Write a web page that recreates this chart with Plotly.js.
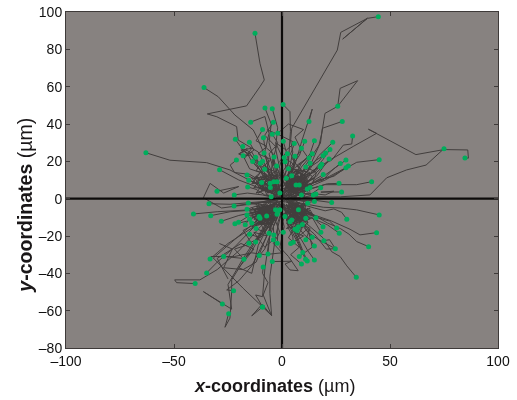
<!DOCTYPE html>
<html><head><meta charset="utf-8">
<script src="https://cdn.plot.ly/plotly-3.0.1.min.js"></script>
<style>html,body{margin:0;padding:0;background:#fff}#c{width:517px;height:400px;filter:blur(0.3px)}</style>
</head><body><div id="c"></div>
<script>
// Each track is a flat list x,y,x,y,... in micrometres; the last pair is the green end point.
const tracksNE = [
 [1,2, 2,8, 5,25, 4,31, 4.5,37.7, 25.6,79.6, 27.2,89.1, 39.5,96.6, 28.1,85.5, 39.5,96.6, 44.6,97.5],
 [2,1, 5,6, 12,15, 17,28, 18.4,35, 19.9,45.7, 25.8,49.5, 35,63.2, 26.9,59.1, 25.8,49.5],
 [1,3, 7,8, 11,18, 17.8,29.7, 18.7,37.7, 27.9,41.4],
 [0,2, 5,15, 7,22, 9.1,30.7, 14,48, 12.5,41.4],
 [-1,1, 1,10, 3,20, 3.9,35.9, 3.7,46.6, 0.5,50.4],
 [2,0, 10,6, 15,13, 22.2,20.7, 33,28, 43.8,35, 40,37.2, 62,23.6, 75,26.3, 86,26.1, 86.3,21.7, 84.7,21.8],
 [3,0, 15,1, 27,1, 40.7,2, 48.5,11.2, 57.7,15.4, 66.7,18, 75,26.8],
 [2,2, 12,6, 20,10, 27.5,15, 34.6,19.5, 45,20.9],
 [1,1, 10,4, 19.8,7.5, 34.6,7.5, 41.5,9.1],
 [4,1, 12,3, 20,2, 24,4, 18,3.5, 27.6,3.6],
 [3,3, 12,12, 18,18, 23,20.6, 28.4,28.7, 32.3,29.3, 32.7,33.6],
 [1,4, 4,9, 7,13, 9,17, 12.5,21.8],
 [0,3, 3,7, 2,12, 5,16, 6,22.7],
 [-1,4, 2,9, 0,14, 3,19, 2.5,24.1],
 [0,2, 3,5, 0,10, 2,15, 1.4,19.8],
 [2,3, 5,6, 2,9, 4.5,12.3],
 [3,2, 8,6, 12,5, 15,10, 19.1,12.9],
 [4,2, 10,4, 16,6, 21,8, 26.4,8.2],
 [4,1, 9,3, 13,2, 17.9,5.9],
 [3,1, 7,4, 9,2, 11.7,5.2],
 [2,4, 4,3, 6,6, 8,7.3],
 [1,3, 3,5, 5,4, 6.5,7.3],
 [3,0, 7,2, 11,1, 14.5,2],
 [4,0, 9,0.5, 12,3, 15.7,2.5],
 [2,1, 5,0.5, 7,3, 9,2],
 [3,5, 8,11, 13,16, 17,23, 23.5,30.2],
 [2,6, 6,12, 9,19, 13,24, 15,31],
 [1,5, 5,10, 4,17, 8,23, 10.5,30.7],
 [-1,6, 1,13, -1,20, 2,25, 0.6,30.7],
 [2,8, 3,14, 6,19, 4,24, 5.7,29.5],
 [5,6, 9,10, 14,14, 19,21, 22.2,26.4],
 [4,7, 10,12, 13,17, 17,20, 20.2,24.5],
 [6,5, 11,9, 16,12, 19,17, 21.8,21.3],
 [5,3, 12,7, 18,11, 24,16, 29.6,20.7],
 [6,4, 13,8, 19,10, 23,15, 27,18.9],
 [4,4, 11,6, 17,10, 24,12, 30.7,17.5],
 [5,2, 10,7, 16,9, 22,12, 29.6,16.6],
 [3,6, 8,8, 11,13, 15,14, 18.4,18.4],
 [4,5, 7,10, 12,11, 14,15, 17.7,17.1]
];
const tracksNW = [
 [-1,1, -5,12, -11,25, -20.3,31.4, -21,38.6, -30.2,43.9, -34.6,45.4, -16.4,49.7, -10.2,60, -8.2,63.6, -10.2,72.5, -12.5,88.6],
 [-1,2, -5,15, -11,31.5, -13.3,36.8, -21.8,44.8, -29.5,54.6, -36.1,59.5],
 [-2,2, -6,14, -8,25, -6,35, -7.9,44, -14.5,41],
 [-2,1, -12,8, -24.1,15.4, -34.9,19.3, -51.9,20.6, -63,24.6],
 [-2,-1, -15,-3, -28,-5, -36.4,0.5, -33.3,8.2, -27,3, -20,6.5, -30.1,4],
 [-1,3, -3,14, -4,22, -2,30, -4.5,34.5],
 [-1,4, -5,14, -4,24, -8,28, -8.6,32.7],
 [-1,2, -3,8, -1,14, -4,18, -3.7,22.3],
 [-2,3, -4,10, -7,16, -6,20, -8.3,24.5],
 [0,3, -2,8, -1,12, -2.5,17.5],
 [-2,2, -5,7, -4,11, -8,15.7],
 [-1,1, -2,5, -4,5, -3.8,9],
 [0,2, -1,5, -3,6, -2.3,9],
 [-2,1, -3,4, -6,5, -5.5,8.2],
 [-2,0, -4,3, -3,4, -5.4,6],
 [-3,2, -6,4, -6,7, -9.4,8.6],
 [-1,0, -3,2, -5,1],
 [-1,5, -3,18, -6,30, -5,40, -7.9,48.6],
 [0,4, -1,16, -3,27, -2,38, -4.5,48.2],
 [-3,4, -6,10, -9,14, -10,18, -12.2,22.2],
 [-3,3, -9,9, -15,13, -22,14, -24,18, -21.1,20.7],
 [-3,5, -8,10, -10,15, -13.6,19.9],
 [-3,2, -11,6, -20,10, -28.9,15.5],
 [-3,3, -8,6, -12,10, -16.2,12.7],
 [-2,2, -7,4, -11,8, -15.4,9.9],
 [-2,1, -8,2, -12,5, -15.9,6.3],
 [-2,0, -9,2, -16,3, -22.1,2],
 [-4,6, -9,14, -14,20, -16,24, -18,26, -21.6,31.8],
 [-3,7, -7,15, -11,19, -14,25, -18,22, -13,26, -15.1,30.2],
 [-3,6, -9,13, -13,21, -16,26, -20,24, -15,23, -19,27, -18.2,27.9]
];
const tracksSW = [
 [-1,-2, -10,-15, -20,-28, -30,-38, -38,-43.5, -49.7,-43.5, -48.8,-45, -40.2,-45.5],
 [-2,-2, -12,-14, -22,-26, -30,-34, -34.9,-39.8],
 [-1,-3, -9,-12, -17,-18, -25,-24, -30,-29, -33.3,-32.3],
 [-1,-2, -8,-15, -16,-30, -23.3,-43.5, -23.3,-50, -24.1,-64, -26.4,-68.9, -24.7,-61.6],
 [-2,-3, -10,-18, -18,-32, -25,-46, -23.3,-59.2, -36.4,-49.8, -27.6,-56.4],
 [-1,-4, -7,-20, -14,-36, -20,-44, -25.6,-48.9, -22.4,-49.3],
 [-3,-2, -12,-12, -22,-22, -31.8,-31.8, -18,-48, -5.1,-62.3, -9.2,-56.5, -14,-62.8, -9,-58],
 [0,-3, -5,-15, -7.9,-37, -9,-52.5, -12.2,-51.6, -9,-58],
 [1,-2, -3,-20, -5.6,-41.8, -5.6,-50.7, -4.8,-62.8, -8.7,-51.6, -6.5,-45, -9,-40, -8.7,-36.6],
 [-2,-4, -7,-14, -11,-22, -14,-28, -17.6,-32.5],
 [-2,-4, -6,-12, -9,-18, -12,-22, -15.3,-23.9],
 [-1,-4, -5,-12, -8,-17, -10,-20, -12.2,-23.2],
 [-1,-6, -4,-15, -6,-22, -8,-27, -10.5,-30.5],
 [-3,-1, -12,-2, -24,-3, -33.8,-2.7],
 [-3,-2, -10,-2, -17,-3, -22.2,-3.9],
 [-3,-1, -7,-1, -12,-3, -15.6,-2.3],
 [-2,-2, -7,-4, -12,-4, -16.2,-5.7],
 [-3,-3, -15,-6, -30,-7, -41,-8.2],
 [-2,-3, -12,-6, -24,-7, -33,-9.1],
 [-2,-3, -8,-5, -12,-7, -16.2,-8.7],
 [-2,-2, -5,-5, -8,-7, -10.6,-9.6],
 [-3,-4, -12,-7, -20,-9, -28.1,-12.1],
 [-3,-3, -9,-7, -15,-9, -20.1,-12.7],
 [-2,-4, -10,-8, -16,-12, -21.8,-13.5],
 [-1,-3, -2,-9, -5,-12, -6.5,-29.6],
 [-1,-5, 1,-15, -1,-26, 3,-31, 7.5,-38.6, 3.7,-38.2, 1.4,-35, 4.5,-33.5, -4.5,-33.7],
 [0,-6, -2,-13, -2,-20, -2.2,-23.9],
 [-1,-3, -3,-9, -5,-13, -6,-18.5],
 [-1,-4, -2,-10, -4,-15, -3.8,-19.4],
 [-2,-1, -5,-5, -8,-7, -10.2,-10.5],
 [-1,-2, -3,-5, -5,-6, -7.1,-9.3],
 [0,-2, -1,-5, -3,-6, -2.3,-8.4]
];
const tracksSE = [
 [2,-1, 11,-3, 19.1,-4.6, 27,-5, 34.6,-6, 45,-8.7],
 [2,-2, 9,-3, 15,-5, 20,-6.5, 24,-5.5, 27.6,-7.3, 30,-11],
 [3,-2, 13,-8, 23,-12, 31.5,-16.4, 36.1,-19.4, 43.8,-18.2],
 [3,-2, 12,-7, 21,-13, 27,-16, 31,-19, 34.6,-23, 40.1,-25.7],
 [2,-1, 9,-7, 16,-10, 22,-12, 25.3,-15.7],
 [2,-3, 8,-8, 15,-11, 21,-14, 26.5,-18.5],
 [3,-4, 10,-12, 19,-21, 23,-28.4, 26.9,-31, 30,-36, 34.4,-42.1],
 [2,-4, 9,-13, 15,-19, 20.5,-27, 24.7,-26.8, 22,-22, 19.4,-22.5],
 [3,-5, 8,-12, 12,-18, 17,-22, 22,-25, 24.7,-26.8],
 [2,-5, 6,-13, 10,-19, 13,-22, 15,-25.3],
 [2,-3, 6,-9, 10,-14, 12,-18, 14,-20.7],
 [1,-4, 4,-14, 9,-22, 12,-28, 15,-32.8],
 [1,-5, 5,-15, 8,-23, 10,-29, 11.7,-33.4],
 [1,-4, 3,-14, 7,-23, 9,-28, 10.9,-32.5],
 [1,-3, 3,-12, 6,-19, 8,-24, 9.6,-28.9],
 [1,-3, 2,-10, 3,-16, 5,-20, 5.2,-23.4],
 [0,-3, 2,-8, 0,-13, 0.6,-18],
 [2,-3, 4,-8, 5,-12, 6,-16.4],
 [3,-2, 5,-7, 6,-11, 7.6,-15],
 [3,-3, 6,-6, 8,-10, 9.4,-13.9],
 [3,-1, 6,-5, 9,-6, 11,-10.5],
 [3,-2, 8,-4, 12,-7, 15.7,-10.2],
 [4,-1, 10,-1, 16,-1, 23,-2.1],
 [3,-1, 6,-1, 9,-3, 11.9,-2.5],
 [4,0, 8,-1, 12,-2, 15,-1.5],
 [0,-2, 1,-5, 0,-7, 1.4,-9.6],
 [1,-3, 2,-6, 4,-9, 3.7,-12.3],
 [2,-3, 3,-5, 3,-8, 4.5,-11.4],
 [3,-1, 5,-3, 7,-4, 7.6,-6]
];
// Tangled tracks that make up the dark core and the arms around it.
const tracksCore = [
 [1,7, 6,10, 3,12, 8,16, 5,21, 9,26, 6,33, 10,37, 3,40, -2,35],
 [2,4, 7,7, 4,11, 9,12, 6,9, 10,14, 7,18, 12,22, 9,27],
 [5,9, 2,6, 8,5, 4,12, 9,10, 6,4, 11,7, 14,12, 10,15, 13,19],
 [1,9, 6,3, 3,10, 10,8, 5,13, 8,3, 2,7, 7,14, 3,16],
 [0,5, 6,8, 9,5, 3,9, 7,12, 12,9, 5,6, 10,3, 13,6],
 [4,2, 2,11, 7,9, 4,6, 11,11, 8,15, 3,13, 6,18, 1,22],
 [8,2, 3,4, 10,5, 6,11, 12,13, 9,7, 14,8, 16,14, 11,17],
 [3,1, 9,9, 5,5, 12,4, 7,8, 2,5, 8,12, 4,15, 9,19, 14,24],
 [6,6, 1,4, 5,10, 11,6, 8,11, 3,7, 6,13, 12,16, 15,20, 19,23],
 [-7,37, -1,34, 6,30, 2,26, -3,30, 1,20, 5,16, 2,11],
 [-1,7, -5,11, -3,5, -7,8, -4,14, -8,11, -2,9, -6,16, -10,19],
 [-4,3, -8,5, -5,9, -10,12, -6,3, -11,6, -7,13, -12,15, -9,20],
 [-1,9, -6,6, -2,14, -9,17, -5,21, -11,24, -7,28, -12,31, -9,37],
 [-2,5, -7,3, -3,7, -12,3, -8,9, -14,8, -10,14, -15,16, -18,23],
 [-3,2, -9,7, -6,12, -13,11, -8,16, -3,12, -6,24, -3,28, -8,34, -4,41],
 [-16,27, -20,24, -17,22, -14,27, -19,26, -15,24, -12,20, -8,14, -4,8, -1,3],
 [-3,-5, -7,-2, -11,-8, -5,-10, -9,-4, -13,-11, -6,-14, -3,-8, -8,-18, -12,-16],
 [-5,-3, -9,-9, -4,-7, -12,-5, -7,-13, -14,-15, -9,-11, -4,-12, -10,-21, -15,-19],
 [-2,-6, -8,-4, -6,-11, -11,-7, -5,-16, -10,-13, -7,-20, -13,-18, -8,-26, -4,-22],
 [-6,-1, -3,-9, -10,-6, -7,-10, -12,-12, -8,-3, -4,-5, -9,-14, -14,-9, -17,-14],
 [-4,-4, -11,-10, -6,-8, -13,-7, -9,-12, -5,-6, -8,-9, -12,-4, -7,-6, -15,-11],
 [-8,-7, -3,-6, -10,-11, -6,-5, -11,-3, -7,-12, -12,-9, -9,-6, -5,-13, -14,-13],
 [-7,-8, -11,-5, -9,-13, -4,-10, -13,-14, -18,-17, -14,-24, -22,-27, -18,-32, -27,-31],
 [-33,-31, -22,-31, -14,-29, -8,-30, 0,-29, -4,-24, -1,-18, -3,-12, -1,-6],
 [-29,-24, -23,-27, -27,-37, -18,-38, -12,-34, -8,-22, -5,-14, -2,-7],
 [-25,-43, -30,-32, -19,-24, -13,-27, -20,-37, -14,-40, -11,-25, -7,-16, -3,-6],
 [3,-5, 8,-2, 5,-9, 10,-7, 6,-12, 11,-11, 4,-14, 8,-6, 12,-13, 7,-17],
 [5,-3, 1,-8, 9,-5, 4,-11, 7,-15, 12,-9, 2,-13, 6,-18, 10,-20, 4,-24],
 [2,-7, 7,-4, 3,-12, 9,-9, 5,-17, 10,-14, 7,-21, 12,-16, 14,-26, 8,-31],
 [6,-1, 2,-5, 8,-8, 4,-3, 10,-4, 5,-7, 9,-12, 13,-6, 16,-12, 19,-15],
 [4,-4, 9,-7, 6,-2, 11,-9, 3,-7, 7,-11, 12,-5, 8,-14, 14,-10, 18,-18],
 [7,-6, 3,-3, 8,-10, 5,-5, 11,-3, 6,-9, 2,-11, 9,-13, 13,-16, 11,-22],
 [1,-9, 6,-6, 4,-13, 8,-11, 2,-16, 6,-15, 3,-21, 8,-26, 4,-30, 9,-35]
];
// Line-only paths inside the dark core, whose end points are hidden in the mass.
const coreTangles = [
 [2,3, 9,5, 4,8, 12,10, 6,12, 14,6, 8,3, 3,9, 10,13, 5,16, 13,14, 7,9],
 [5,2, 11,9, 3,6, 8,14, 13,4, 6,7, 10,11, 2,12, 7,5, 12,7, 4,10, 9,16],
 [1,5, 7,3, 5,11, 10,6, 3,14, 9,8, 15,11, 8,6, 4,4, 11,12, 6,15, 2,8],
 [-3,4, -8,9, -2,11, -10,6, -5,3, -12,9, -6,13, -3,7, -9,4, -14,11, -7,10, -4,14],
 [-5,7, -11,3, -3,9, -8,13, -13,6, -6,5, -2,13, -9,8, -12,12, -4,5, -10,10, -7,2],
 [-4,-3, -10,-8, -5,-12, -13,-6, -7,-4, -3,-11, -11,-11, -6,-7, -14,-9, -8,-14, -4,-9, -12,-3],
 [-6,-5, -12,-10, -8,-2, -3,-7, -10,-13, -5,-9, -15,-7, -9,-11, -4,-14, -11,-5, -7,-9, -13,-13],
 [-2,-8, -9,-6, -6,-14, -12,-8, -5,-4, -10,-3, -3,-12, -8,-10, -14,-5, -6,-11, -11,-14, -4,-6],
 [3,-4, 9,-9, 5,-2, 12,-6, 6,-11, 2,-6, 10,-12, 7,-3, 14,-8, 4,-9, 11,-4, 8,-13],
 [5,-6, 11,-3, 3,-10, 8,-7, 13,-11, 6,-4, 2,-12, 9,-5, 12,-13, 4,-7, 10,-9, 7,-15],
 [2,-3, 8,-12, 13,-5, 5,-9, 10,-2, 3,-14, 11,-8, 6,-6, 15,-9, 7,-10, 4,-4, 12,-10],
 [-4,1, 3,2, -6,-1, 5,-2, -3,3, 7,1, -5,-3, 4,-4, -2,5, 9,-1, -7,2, 2,-5]
];
const xTicks = [-100, -50, 0, 50, 100];
const yTicks = [-80, -60, -40, -20, 0, 20, 40, 60, 80, 100];
const xTitle = '<b><i>x</i>-coordinates</b> (µm)';
const yTitle = '<b><i>y</i>-coordinates</b> (µm)';

const allTracks = tracksNE.concat(tracksNW, tracksSW, tracksSE, tracksCore);
const pick = (t, k) => t.filter((_, i) => i % 2 === k);
const traces = allTracks.concat(coreTangles).map(t => ({
  type: 'scatter', mode: 'lines', x: pick(t, 0), y: pick(t, 1),
  line: {color: '#423e3d', width: 1}, hoverinfo: 'skip'
}));
traces.push({type:'scatter', mode:'lines', x:[-100,100], y:[0,0], line:{color:'#0d0b0a', width:2.2}});
traces.push({type:'scatter', mode:'lines', x:[0,0], y:[-80,100], line:{color:'#0d0b0a', width:2.2}});
traces.push({
  type:'scatter', mode:'markers',
  x: allTracks.map(t => t[t.length-2]), y: allTracks.map(t => t[t.length-1]),
  marker:{color:'#00ad5c', size:5, line:{width:0}}
});
const axisBase = {
  showgrid:false, zeroline:false, showline:true, linecolor:'#3e3a39', linewidth:1,
  mirror:'allticks', ticks:'inside', ticklen:4, tickcolor:'#3e3a39', tickwidth:1,
  tickfont:{family:'Liberation Sans', size:14, color:'#111'}
};
const titleFont = {family:'Liberation Sans', size:18, color:'#1a1718'};
Plotly.newPlot('c', traces, {
  width:517, height:400, showlegend:false,
  paper_bgcolor:'#fff', plot_bgcolor:'#878280',
  margin:{l:66, r:19, t:12, b:52},
  xaxis:Object.assign({}, axisBase, {range:[-100,100], tickvals:xTicks, ticktext:xTicks.map(v=>String(v).replace('-','–'))}),
  yaxis:Object.assign({}, axisBase, {range:[-80,100], tickvals:yTicks, ticktext:yTicks.map(v=>String(v).replace('-','–'))}),
  annotations:[
    {text:xTitle, xref:'paper', yref:'paper', x:0.483, y:-0.113, xanchor:'center', yanchor:'middle', showarrow:false, font:titleFont},
    {text:yTitle, xref:'paper', yref:'paper', x:-0.097, y:0.424, xanchor:'center', yanchor:'middle', textangle:-90, showarrow:false, font:{family:'Liberation Sans', size:19.5, color:'#1a1718'}}
  ]
}, {displayModeBar:false, staticPlot:true});
</script></body></html>
